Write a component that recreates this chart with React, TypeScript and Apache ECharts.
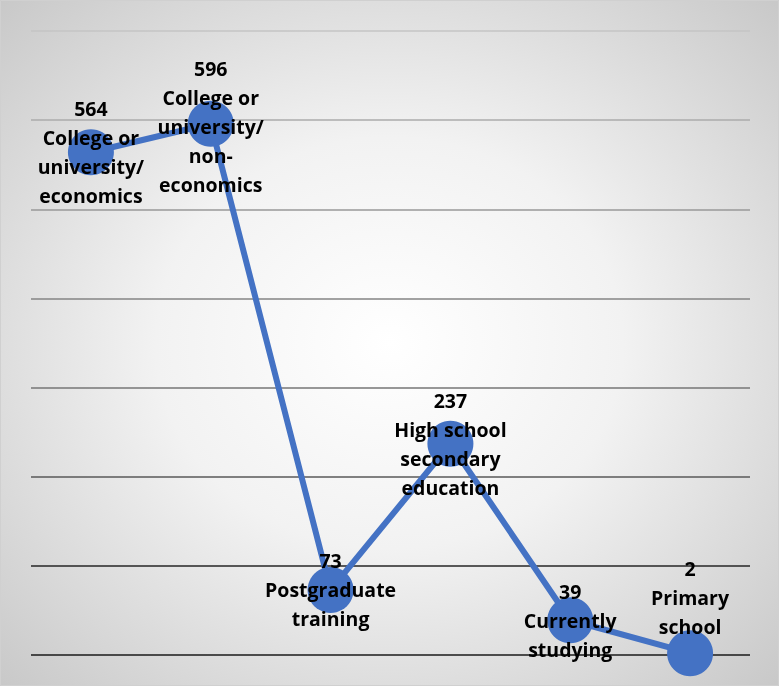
import React, { useEffect, useRef } from "react";
import * as echarts from "echarts";

const categories = [
  "College or\nuniversity/\neconomics",
  "College or\nuniversity/\nnon-\neconomics",
  "Postgraduate\ntraining",
  "High school\nsecondary\neducation",
  "Currently\nstudying",
  "Primary\nschool",
];
const values = [564, 596, 73, 237, 39, 2];
const yTicks = [0, 100, 200, 300, 400, 500, 600, 700];

export default function App() {
  const ref = useRef<HTMLDivElement>(null);
  useEffect(() => {
    if (!ref.current) return;
    const chart = echarts.init(ref.current, null, { renderer: "svg" });
    const data = values.map((v, i) => {
      const item: any = { value: v };
      if (i === 5) item.label = { offset: [0, -56] };
      if (i === 1) item.label = { offset: [0, 3] };
      return item;
    });
    chart.setOption({
      animation: false,
      backgroundColor: {
        type: "radial",
        x: 0.5,
        y: 0.5,
        r: 0.75,
        colorStops: [
          { offset: 0, color: "#ffffff" },
          { offset: 0.4, color: "#f2f2f2" },
          { offset: 1, color: "#c4c4c4" },
        ],
      },
      graphic: [
        {
          type: "rect",
          shape: { x: 0.5, y: 0.5, width: 778, height: 685 },
          style: { fill: "none", stroke: "#d0d0d0", lineWidth: 1 },
          silent: true,
        },
      ],
      grid: { left: 31, right: 29, top: 31, bottom: 31, containLabel: false },
      xAxis: {
        type: "category",
        data: categories,
        boundaryGap: true,
        axisLine: { show: false },
        axisTick: { show: false },
        axisLabel: { show: false },
        splitLine: { show: false },
      },
      yAxis: {
        type: "value",
        min: yTicks[0],
        max: yTicks[yTicks.length - 1],
        interval: 100,
        axisLine: { show: false },
        axisTick: { show: false },
        axisLabel: { show: false },
        splitLine: {
          show: true,
          lineStyle: {
            width: 1.5,
            color: [
              "#1a1a1a",
              "#262626",
              "#595959",
              "#767676",
              "#858585",
              "#999999",
              "#ababab",
              "#c4c4c4",
            ],
          },
        },
      },
      series: [
        {
          type: "line",
          data,
          symbol: "circle",
          symbolSize: 46,
          itemStyle: { color: "#4472C4" },
          lineStyle: { color: "#4472C4", width: 6 },
          label: {
            show: true,
            position: "inside",
            formatter: (p: any) => `${p.value}\n${p.name}`,
            fontFamily: "Open Sans",
            fontWeight: "bold",
            fontSize: 19.5,
            lineHeight: 29,
            color: "#000000",
            align: "center",
          },
        },
      ],
    });
    return () => chart.dispose();
  }, []);
  return (
    <div
      ref={ref}
      style={{ position: "fixed", left: 0, top: 0, width: 779, height: 686 }}
    />
  );
}
